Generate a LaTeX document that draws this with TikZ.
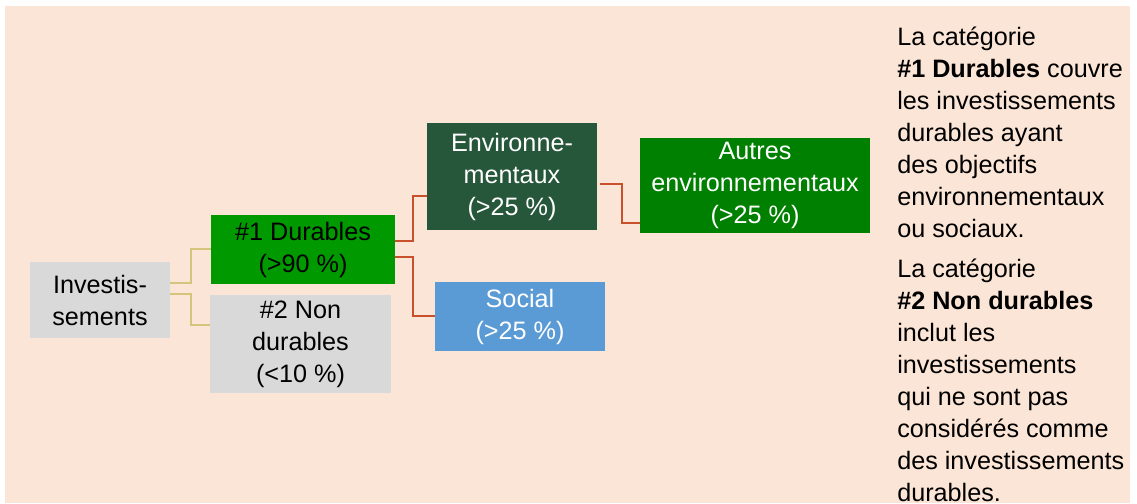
\documentclass[tikz,border=0pt]{standalone}
\usepackage{fontspec}
\setmainfont{Liberation Sans}
\usetikzlibrary{positioning, calc}
\definecolor{cBeige}{RGB}{251,229,214}
\definecolor{cGrey}{RGB}{217,217,217}
\definecolor{cGreen}{RGB}{0,153,0}
\definecolor{cDarkGreen}{RGB}{38,87,58}
\definecolor{cMidGreen}{RGB}{0,128,0}
\definecolor{cBlue}{RGB}{91,155,213}
\definecolor{cTan}{RGB}{212,196,124}
\definecolor{cRed}{RGB}{200,80,44}
\tikzset{
    catbox/.style ={rectangle, inner sep=0pt, text centered, align=center, draw=none},
    greybox/.style={catbox, fill=cGrey, text=black},
    durbox/.style ={catbox, fill=cGreen, text=black},
    envbox/.style ={catbox, fill=cDarkGreen, text=white},
    autbox/.style ={catbox, fill=cMidGreen, text=white},
    socbox/.style ={catbox, fill=cBlue, text=white},
    tanline/.style={draw=cTan, line width=1.5pt},
    redline/.style={draw=cRed, line width=1.5pt},
}
\begin{document}
\begin{tikzpicture}[x=0.75pt, y=0.75pt, font=\fontsize{18.9}{24}\selectfont]
    \useasboundingbox (0,0) rectangle (1137,503);
    \fill[cBeige] (5,0) rectangle (1130,497);
    \node[greybox, minimum width=105pt, minimum height=57pt] (inv) at (100,203) {Investis-\\sements};
    \node[durbox, minimum width=138pt, minimum height=51.75pt] (dur) at (303,253.5) {\#1 Durables\\(>90 \%)};
    \node[greybox, minimum width=135.75pt, minimum height=73.5pt] (nondur) at (300.5,159) {\#2 Non\\durables\\(<10 \%)};
    \node[envbox, minimum width=127.5pt, minimum height=80.25pt] (env) at (512,326.5) {Environne-\\mentaux\\(>25 \%)};
    \node[socbox, minimum width=127.5pt, minimum height=51.75pt] (soc) at (520,186.5) {Social\\(>25 \%)};
    \node[autbox, minimum width=172.5pt, minimum height=71.25pt] (autres) at (755,317.5) {Autres\\environnementaux\\(>25 \%)};
    \draw[tanline] ($(inv.east)+(0,17)$) -- ++(21,0) |- (dur.west);
    \draw[tanline] ($(inv.east)+(0,6)$) -- ++(21,0) |- ($(nondur.west)+(0,19)$);
    \draw[redline] ($(dur.east)+(0,8)$) -- ++(18,0) |- ($(env.west)+(0,-20)$);
    \draw[redline] ($(dur.east)+(0,-8)$) -- ++(18,0) |- (soc.west);
    \draw[redline] ($(env.east)+(3,-7.5)$) -- ++(22,0) |- ($(autres.west)+(0,-37.5)$);
    \node[anchor=north west, inner sep=0pt, align=left] (note) at (897,476)
        {La catégorie\\\textbf{\#1 Durables} couvre\\les investissements\\durables ayant\\des objectifs\\environnementaux\\ou sociaux.\\[6pt]
         La catégorie\\\textbf{\#2 Non durables}\\inclut les\\investissements\\qui ne sont pas\\considérés comme\\des investissements\\durables.};
\end{tikzpicture}
\end{document}
